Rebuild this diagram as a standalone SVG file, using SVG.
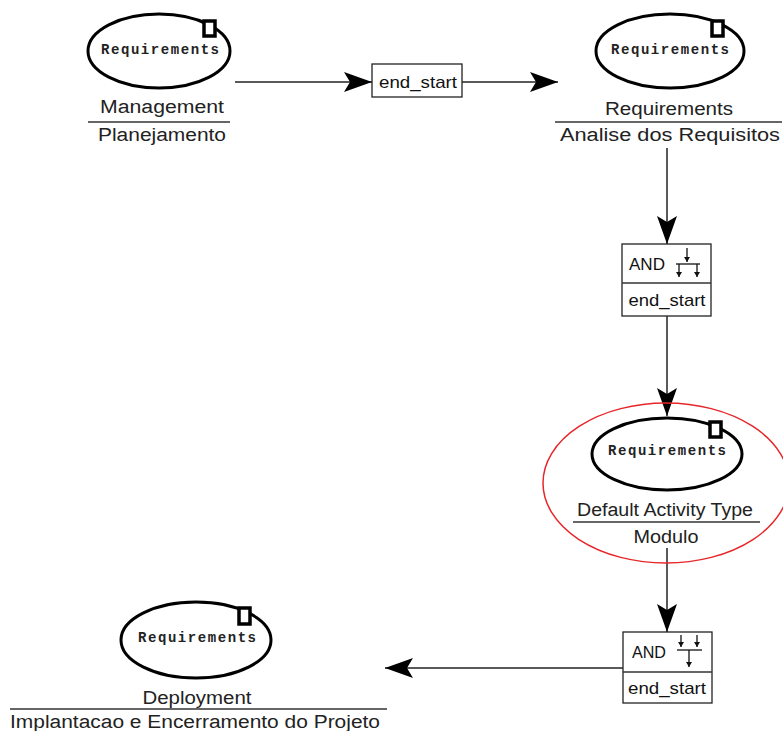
<svg xmlns="http://www.w3.org/2000/svg" width="783" height="731" viewBox="0 0 783 731">
<style>
.ell{fill:none;stroke:#000;stroke-width:3}
.dbox{fill:#fff;stroke:#000;stroke-width:3.5}
.mono{font-family:"Liberation Mono","Courier New",monospace;font-size:14px;font-weight:bold;fill:#222;text-anchor:middle}
.lbl{font-family:"Liberation Sans",Arial,sans-serif;font-size:18px;fill:#222;text-anchor:middle}
.box{fill:#fff;stroke:#222;stroke-width:1.3}
.sep{stroke:#333;stroke-width:1.5}
.btxt{font-family:"Liberation Sans",Arial,sans-serif;font-size:17px;fill:#111;text-anchor:middle}
.conn{stroke:#222;stroke-width:1.5;fill:none;marker-end:url(#ah)}
.ic{stroke:#111;stroke-width:1.3;fill:none}
</style>
<defs>
<marker id="ah" markerUnits="userSpaceOnUse" viewBox="-30 -12 32 24" refX="0" refY="0" markerWidth="32" markerHeight="24" orient="auto">
<path d="M0,0 L-28,-10 L-22,0 L-28,10 Z" fill="#000"/>
</marker>
<marker id="sa" markerUnits="userSpaceOnUse" viewBox="-6 -4 7 8" refX="0" refY="0" markerWidth="7" markerHeight="8" orient="auto">
<path d="M0,0 L-5,-3 L-5,3 Z" fill="#111"/>
</marker>
</defs>

<g id="connectors">
<line class="conn" x1="235" y1="82" x2="372" y2="82"/>
<line class="conn" x1="462" y1="82" x2="558" y2="82"/>
<line class="conn" x1="667" y1="148" x2="667" y2="244"/>
<line class="conn" x1="667" y1="316" x2="667" y2="416"/>
<line class="conn" x1="667" y1="548" x2="667" y2="632"/>
<line class="conn" x1="623" y1="668" x2="385" y2="668"/>
</g>

<g id="node-management">
<ellipse class="ell" cx="159" cy="51" rx="71" ry="37"/>
<rect class="dbox" x="204" y="21" width="11" height="15"/>
<text class="mono" x="160" y="54" textLength="118">Requirements</text>
<text class="lbl" x="162" y="113" textLength="124" lengthAdjust="spacingAndGlyphs">Management</text>
<line class="sep" x1="88" y1="122" x2="230" y2="122"/>
<text class="lbl" x="162" y="141" textLength="128" lengthAdjust="spacingAndGlyphs">Planejamento</text>
</g>

<g id="gate-end-start">
<rect class="box" x="372" y="64" width="90" height="33"/>
<text class="btxt" x="418" y="88" textLength="78" lengthAdjust="spacingAndGlyphs">end_start</text>
</g>

<g id="node-requirements">
<ellipse class="ell" cx="670" cy="51" rx="74" ry="37"/>
<rect class="dbox" x="712" y="21" width="11" height="15"/>
<text class="mono" x="670" y="54" textLength="118">Requirements</text>
<text class="lbl" x="669" y="115" textLength="128" lengthAdjust="spacingAndGlyphs">Requirements</text>
<line class="sep" x1="555" y1="122" x2="782" y2="122"/>
<text class="lbl" x="670" y="141" textLength="220" lengthAdjust="spacingAndGlyphs">Analise dos Requisitos</text>
</g>

<g id="gate-and-split">
<rect class="box" x="622" y="244" width="89" height="72"/>
<line class="sep" x1="622" y1="283" x2="711" y2="283"/>
<text class="btxt" x="647" y="270" textLength="36" lengthAdjust="spacingAndGlyphs">AND</text>
<line class="ic" x1="687" y1="248" x2="687" y2="262" marker-end="url(#sa)"/>
<line class="ic" x1="676" y1="264" x2="700" y2="264"/>
<line class="ic" x1="679" y1="264" x2="679" y2="277" marker-end="url(#sa)"/>
<line class="ic" x1="697" y1="264" x2="697" y2="277" marker-end="url(#sa)"/>
<text class="btxt" x="667" y="306" textLength="77" lengthAdjust="spacingAndGlyphs">end_start</text>
</g>

<g id="node-modulo">
<ellipse class="ell" cx="667" cy="454" rx="75" ry="36"/>
<rect class="dbox" x="710" y="422" width="11" height="15"/>
<text class="mono" x="667" y="455" textLength="118">Requirements</text>
<text class="lbl" x="665" y="516" textLength="176" lengthAdjust="spacingAndGlyphs">Default Activity Type</text>
<line class="sep" x1="573" y1="522" x2="760" y2="522"/>
<text class="lbl" x="666" y="543" textLength="65" lengthAdjust="spacingAndGlyphs">Modulo</text>
<ellipse cx="666" cy="483" rx="123" ry="80" fill="none" stroke="#e8262a" stroke-width="1.5"/>
</g>

<g id="gate-and-join">
<rect class="box" x="623" y="632" width="89" height="71"/>
<line class="sep" x1="623" y1="672" x2="712" y2="672"/>
<text class="btxt" x="649" y="658" textLength="34" lengthAdjust="spacingAndGlyphs">AND</text>
<line class="ic" x1="681" y1="635" x2="681" y2="647" marker-end="url(#sa)"/>
<line class="ic" x1="697" y1="635" x2="697" y2="647" marker-end="url(#sa)"/>
<line class="ic" x1="677" y1="650" x2="702" y2="650"/>
<line class="ic" x1="689" y1="650" x2="689" y2="667" marker-end="url(#sa)"/>
<text class="btxt" x="667" y="694" textLength="78" lengthAdjust="spacingAndGlyphs">end_start</text>
</g>

<g id="node-deployment">
<ellipse class="ell" cx="196" cy="640" rx="75" ry="38"/>
<rect class="dbox" x="239" y="608" width="11" height="16"/>
<text class="mono" x="197" y="642" textLength="118">Requirements</text>
<text class="lbl" x="197" y="704" textLength="109" lengthAdjust="spacingAndGlyphs">Deployment</text>
<line class="sep" x1="10" y1="709" x2="387" y2="709"/>
<text class="lbl" x="195" y="728" textLength="370" lengthAdjust="spacingAndGlyphs">Implantacao e Encerramento do Projeto</text>
</g>
</svg>
